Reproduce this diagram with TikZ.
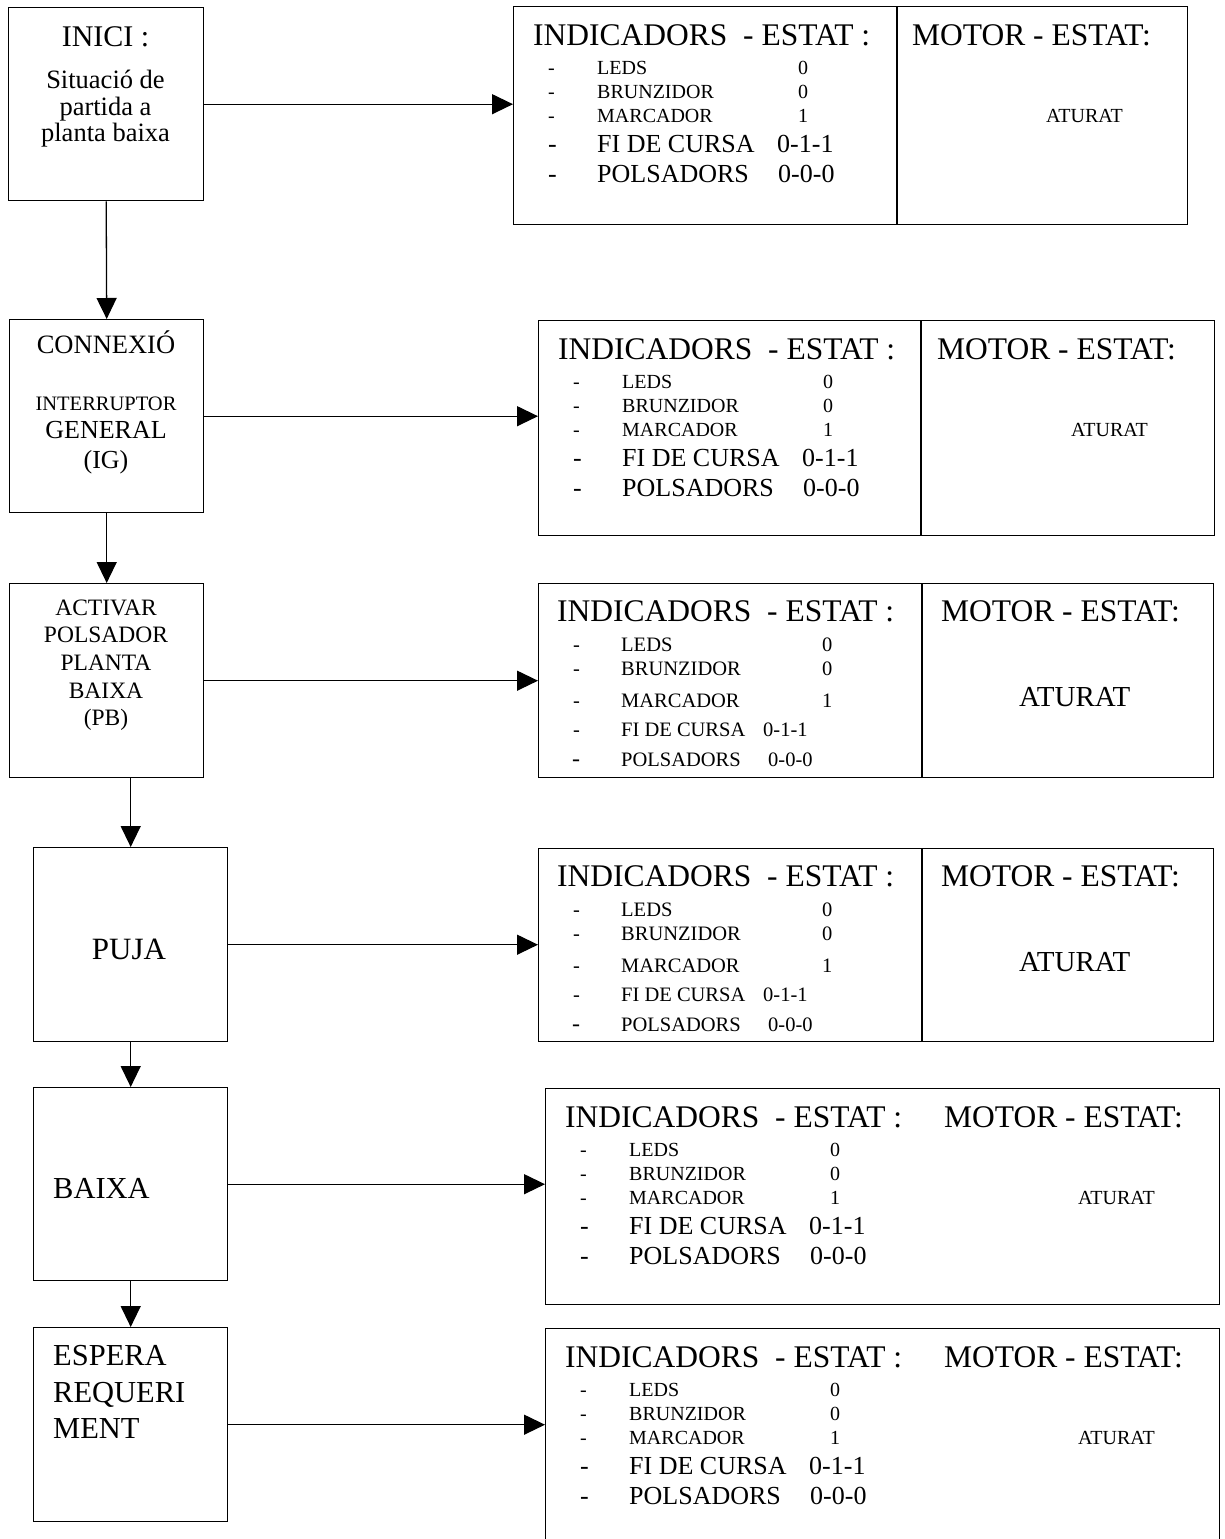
\documentclass[tikz,border=0pt]{standalone}
\usepackage{fontspec}
\setmainfont{Liberation Serif}
\usetikzlibrary{arrows.meta,calc}
\newcommand{\fs}[1]{\fontsize{#1}{#1}\selectfont}
\tikzset{
  box/.style={draw, line width=1.4pt, inner sep=0pt, anchor=north west},
  tc/.style={inner sep=0pt, anchor=base},
  tw/.style={inner sep=0pt, anchor=base west},
  arr/.style={line width=1.3pt, -{Triangle[length=21pt,width=20pt]}},
  sepline/.style={line width=1.4pt},
}
% layout A: used by panels 1, 2, 5, 6
\newcommand{\panelA}[1]{%
  \node[tw,font=\fs{31.5}] (#1-ti) at ([shift={(20,39)}]#1.north west) {INDICADORS\ \ - ESTAT :};
  \node[tw,font=\fs{31.5}] (#1-mo) at ([shift={(399,39)}]#1.north west) {MOTOR - ESTAT:};
  \node[tw,font=\fs{20}] (#1-d1) at ([shift={(35,68)}]#1.north west) {-};
  \node[tw,font=\fs{20}] (#1-n1) at ([shift={(84,68)}]#1.north west) {LEDS};
  \node[tw,font=\fs{20}] (#1-v1) at ([shift={(285,68)}]#1.north west) {0};
  \node[tw,font=\fs{20}] (#1-d2) at ([shift={(35,92)}]#1.north west) {-};
  \node[tw,font=\fs{20}] (#1-n2) at ([shift={(84,92)}]#1.north west) {BRUNZIDOR};
  \node[tw,font=\fs{20}] (#1-v2) at ([shift={(285,92)}]#1.north west) {0};
  \node[tw,font=\fs{20}] (#1-d3) at ([shift={(35,116)}]#1.north west) {-};
  \node[tw,font=\fs{20}] (#1-n3) at ([shift={(84,116)}]#1.north west) {MARCADOR};
  \node[tw,font=\fs{20}] (#1-v3) at ([shift={(285,116)}]#1.north west) {1};
  \node[tw,font=\fs{26}] (#1-d4) at ([shift={(35,146)}]#1.north west) {-};
  \node[tw,font=\fs{26}] (#1-n4) at ([shift={(84,146)}]#1.north west) {FI DE CURSA};
  \node[tw,font=\fs{26}] (#1-v4) at ([shift={(264,146)}]#1.north west) {0-1-1};
  \node[tw,font=\fs{26}] (#1-d5) at ([shift={(35,176)}]#1.north west) {-};
  \node[tw,font=\fs{26}] (#1-n5) at ([shift={(84,176)}]#1.north west) {POLSADORS};
  \node[tw,font=\fs{26}] (#1-v5) at ([shift={(265,176)}]#1.north west) {0-0-0};
  \node[tw,font=\fs{20}] (#1-at) at ([shift={(533,116)}]#1.north west) {ATURAT};
}
% layout B: used by panels 3, 4
\newcommand{\panelB}[1]{%
  \node[tw,font=\fs{31.5}] (#1-ti) at ([shift={(19,38)}]#1.north west) {INDICADORS\ \ - ESTAT :};
  \node[tw,font=\fs{31.5}] (#1-mo) at ([shift={(403,38)}]#1.north west) {MOTOR - ESTAT:};
  \node[tw,font=\fs{20.5}] (#1-d1) at ([shift={(35,68)}]#1.north west) {-};
  \node[tw,font=\fs{20.5}] (#1-n1) at ([shift={(83,68)}]#1.north west) {LEDS};
  \node[tw,font=\fs{20.5}] (#1-v1) at ([shift={(284,68)}]#1.north west) {0};
  \node[tw,font=\fs{20.5}] (#1-d2) at ([shift={(35,92)}]#1.north west) {-};
  \node[tw,font=\fs{20.5}] (#1-n2) at ([shift={(83,92)}]#1.north west) {BRUNZIDOR};
  \node[tw,font=\fs{20.5}] (#1-v2) at ([shift={(284,92)}]#1.north west) {0};
  \node[tw,font=\fs{20.5}] (#1-d3) at ([shift={(35,124)}]#1.north west) {-};
  \node[tw,font=\fs{20.5}] (#1-n3) at ([shift={(83,124)}]#1.north west) {MARCADOR};
  \node[tw,font=\fs{20.5}] (#1-v3) at ([shift={(284,124)}]#1.north west) {1};
  \node[tw,font=\fs{20.5}] (#1-d4) at ([shift={(35,153)}]#1.north west) {-};
  \node[tw,font=\fs{20.5}] (#1-n4) at ([shift={(83,153)}]#1.north west) {FI DE CURSA};
  \node[tw,font=\fs{20.5}] (#1-v4) at ([shift={(225,153)}]#1.north west) {0-1-1};
  \node[tw,font=\fs{24}] (#1-d5) at ([shift={(34,183)}]#1.north west) {-};
  \node[tw,font=\fs{20.5}] (#1-n5) at ([shift={(83,183)}]#1.north west) {POLSADORS};
  \node[tw,font=\fs{20.5}] (#1-v5) at ([shift={(230,183)}]#1.north west) {0-0-0};
  \node[tw,font=\fs{29}] (#1-at) at ([shift={(481,123)}]#1.north west) {ATURAT};
}
\begin{document}
\begin{tikzpicture}[x=1pt,y=-1pt]
\useasboundingbox (0,0) rectangle (1224,1539);
\fill[white] (0,0) rectangle (1224,1539);
\clip (0,0) rectangle (1224,1539);

% ---- left column ----
\node[box, minimum width=195pt, minimum height=193pt] (inici) at (8,7) {};
\node[tc,font=\fs{30}]   (inici-1) at (105.5,46)  {INICI :};
\node[tc,font=\fs{26.5}] (inici-2) at (105.5,88)  {Situació de};
\node[tc,font=\fs{26.5}] (inici-3) at (105.5,115) {partida a};
\node[tc,font=\fs{26.5}] (inici-4) at (105.5,141) {planta baixa};

\node[box, minimum width=194pt, minimum height=193pt] (connexio) at (9,319) {};
\node[tc,font=\fs{26.5}] (connexio-1) at (106,353) {CONNEXIÓ};
\node[tc,font=\fs{20.5}] (connexio-2) at (106,410) {INTERRUPTOR};
\node[tc,font=\fs{26}]   (connexio-3) at (106,438) {GENERAL};
\node[tc,font=\fs{26}]   (connexio-4) at (106,468) {(IG)};

\node[box, minimum width=194pt, minimum height=194pt] (activar) at (9,583) {};
\node[tc,font=\fs{23.5}] (activar-1) at (106,615) {ACTIVAR};
\node[tc,font=\fs{23.5}] (activar-2) at (106,642) {POLSADOR};
\node[tc,font=\fs{23.5}] (activar-3) at (106,670) {PLANTA};
\node[tc,font=\fs{23.5}] (activar-4) at (106,698) {BAIXA};
\node[tc,font=\fs{23.5}] (activar-5) at (106,725) {(PB)};

\node[box, minimum width=194pt, minimum height=194pt] (puja) at (33,847) {};
\node[tc,font=\fs{31}] (puja-1) at (129,959) {PUJA};

\node[box, minimum width=194pt, minimum height=193pt] (baixa) at (33,1087) {};
\node[tw,font=\fs{30.5}] (baixa-1) at (53,1198) {BAIXA};

\node[box, minimum width=194pt, minimum height=194pt] (espera) at (33,1327) {};
\node[tw,font=\fs{30.5}] (espera-1) at (53,1365) {ESPERA};
\node[tw,font=\fs{30.5}] (espera-2) at (53,1402) {REQUERI};
\node[tw,font=\fs{30.5}] (espera-3) at (53,1438) {MENT};

% ---- right column ----
\node[box, minimum width=674pt, minimum height=218pt] (r1) at (513,6) {};
\draw[sepline] ([xshift=384pt]r1.north west) -- ([xshift=384pt]r1.south west);
\panelA{r1}

\node[box, minimum width=676pt, minimum height=215pt] (r2) at (538,320) {};
\draw[sepline] ([xshift=383pt]r2.north west) -- ([xshift=383pt]r2.south west);
\panelA{r2}

\node[box, minimum width=675pt, minimum height=194pt] (r3) at (538,583) {};
\draw[sepline] ([xshift=384pt]r3.north west) -- ([xshift=384pt]r3.south west);
\panelB{r3}

\node[box, minimum width=675pt, minimum height=193pt] (r4) at (538,848) {};
\draw[sepline] ([xshift=384pt]r4.north west) -- ([xshift=384pt]r4.south west);
\panelB{r4}

\node[box, minimum width=674pt, minimum height=216pt] (r5) at (545,1088) {};
\panelA{r5}

\node[box, minimum width=674pt, minimum height=240pt] (r6) at (545,1328) {};
\panelA{r6}

% ---- connectors ----
\draw[arr] (inici.east) -- (inici.east -| r1.west);
\draw[arr] (connexio.east) -- (connexio.east -| r2.west);
\draw[arr] (activar.east) -- (activar.east -| r3.west);
\draw[arr] (puja.east) -- (puja.east -| r4.west);
\draw[arr] (baixa.east) -- (baixa.east -| r5.west);
\draw[arr] (espera.east) -- (espera.east -| r6.west);

\draw[arr] (inici.south) -- (connexio.north);
\draw[arr] (connexio.south) -- (activar.north);
\draw[arr] (activar.south -| puja.north) -- (puja.north);
\draw[arr] (puja.south) -- (baixa.north);
\draw[arr] (baixa.south) -- (espera.north);
\end{tikzpicture}
\end{document}
